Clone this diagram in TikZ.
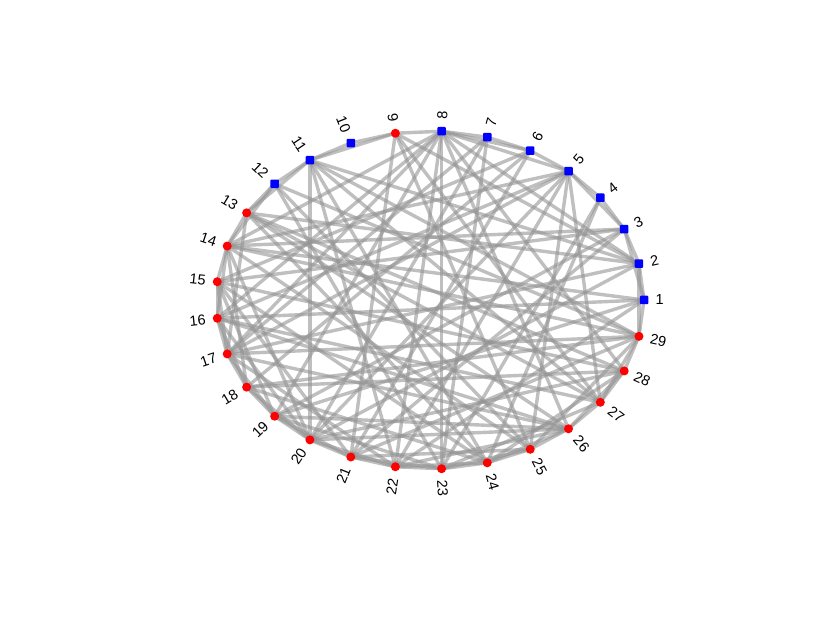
\documentclass[tikz,border=0pt]{standalone}
\usepackage{fontspec}
\setmainfont{Liberation Sans}
\begin{document}
\begin{tikzpicture}[x=1pt,y=1pt,
  edge/.style={draw=black!42, opacity=0.6, line width=3.4pt},
  bluesq/.style={rectangle, rounded corners=1pt, fill=blue, inner sep=0pt, minimum size=8.5pt},
  reddot/.style={circle, fill=red, inner sep=0pt, minimum size=9pt},
  lab/.style={inner sep=0.5pt, font=\fontsize{14.5}{16}\selectfont}]
\useasboundingbox (0,0) rectangle (830,623);
\foreach \i in {1,...,29}{
  \pgfmathsetmacro\a{(\i-1)*360/29}
  \coordinate (n\i) at ({430+214*cos(\a)},{323+169*sin(\a)});
}
% edges
\foreach \u/\v in {1/2,2/3,3/4,4/5,5/6,6/7,7/8,8/9,9/10,10/11,11/12,12/13,13/14,14/15,15/16,16/17,17/18,18/19,19/20,20/21,21/22,22/23,23/24,24/25,25/26,26/27,27/28,28/29,29/1,
  1/3,3/5,6/8,8/5,9/11,11/13,12/14,14/16,15/17,16/18,17/19,18/20,19/21,20/22,21/23,22/24,23/25,24/26,26/28,27/29,29/2,
  11/20,11/2,11/22,11/24,11/27,11/29,
  8/14,8/16,8/17,8/22,8/26,8/28,8/2,8/19,8/23,
  5/20,5/17,5/14,5/22,5/25,5/27,5/16,
  9/21,9/27,9/2,9/25,
  12/29,12/25,12/23,
  13/2,13/27,13/24,13/26,13/28,
  14/1,14/29,14/3,14/25,
  15/3,15/28,15/6,15/24,
  16/1,16/26,16/27,
  17/29,17/7,17/2,17/26,
  18/6,18/28,18/29,
  19/3,19/26,19/1,
  20/2,20/7,20/28,
  21/6,21/29,21/3,
  22/1,23/4,23/7,24/4,
  19/23,18/24,17/22,20/26,21/25,22/26,16/20,15/19,14/18,13/17,14/20,15/21,24/28,25/29,23/27}
  \draw[edge] (n\u) -- (n\v);
% markers
\foreach \i in {1,2,3,4,5,6,7,8,10,11,12}
  \node[bluesq] (m\i) at (n\i) {};
\foreach \i in {9,13,14,15,16,17,18,19,20,21,22,23,24,25,26,27,28,29}
  \node[reddot] (m\i) at (n\i) {};
% labels
\foreach \i in {1,2,3,4,5,6,7,8,23,24,25,26,27,28,29}{
  \pgfmathsetmacro\a{(\i-1)*360/29}
  \node[lab, anchor=west, rotate=\a] (l\i) at ({430+225*cos(\a)},{323+180*sin(\a)}) {\i};
}
\foreach \i in {9,10,11,12,13,14,15,16,17,18,19,20,21,22}{
  \pgfmathsetmacro\a{(\i-1)*360/29}
  \node[lab, anchor=east, rotate=\a-180] (l\i) at ({430+225*cos(\a)},{323+180*sin(\a)}) {\i};
}
\end{tikzpicture}
\end{document}
